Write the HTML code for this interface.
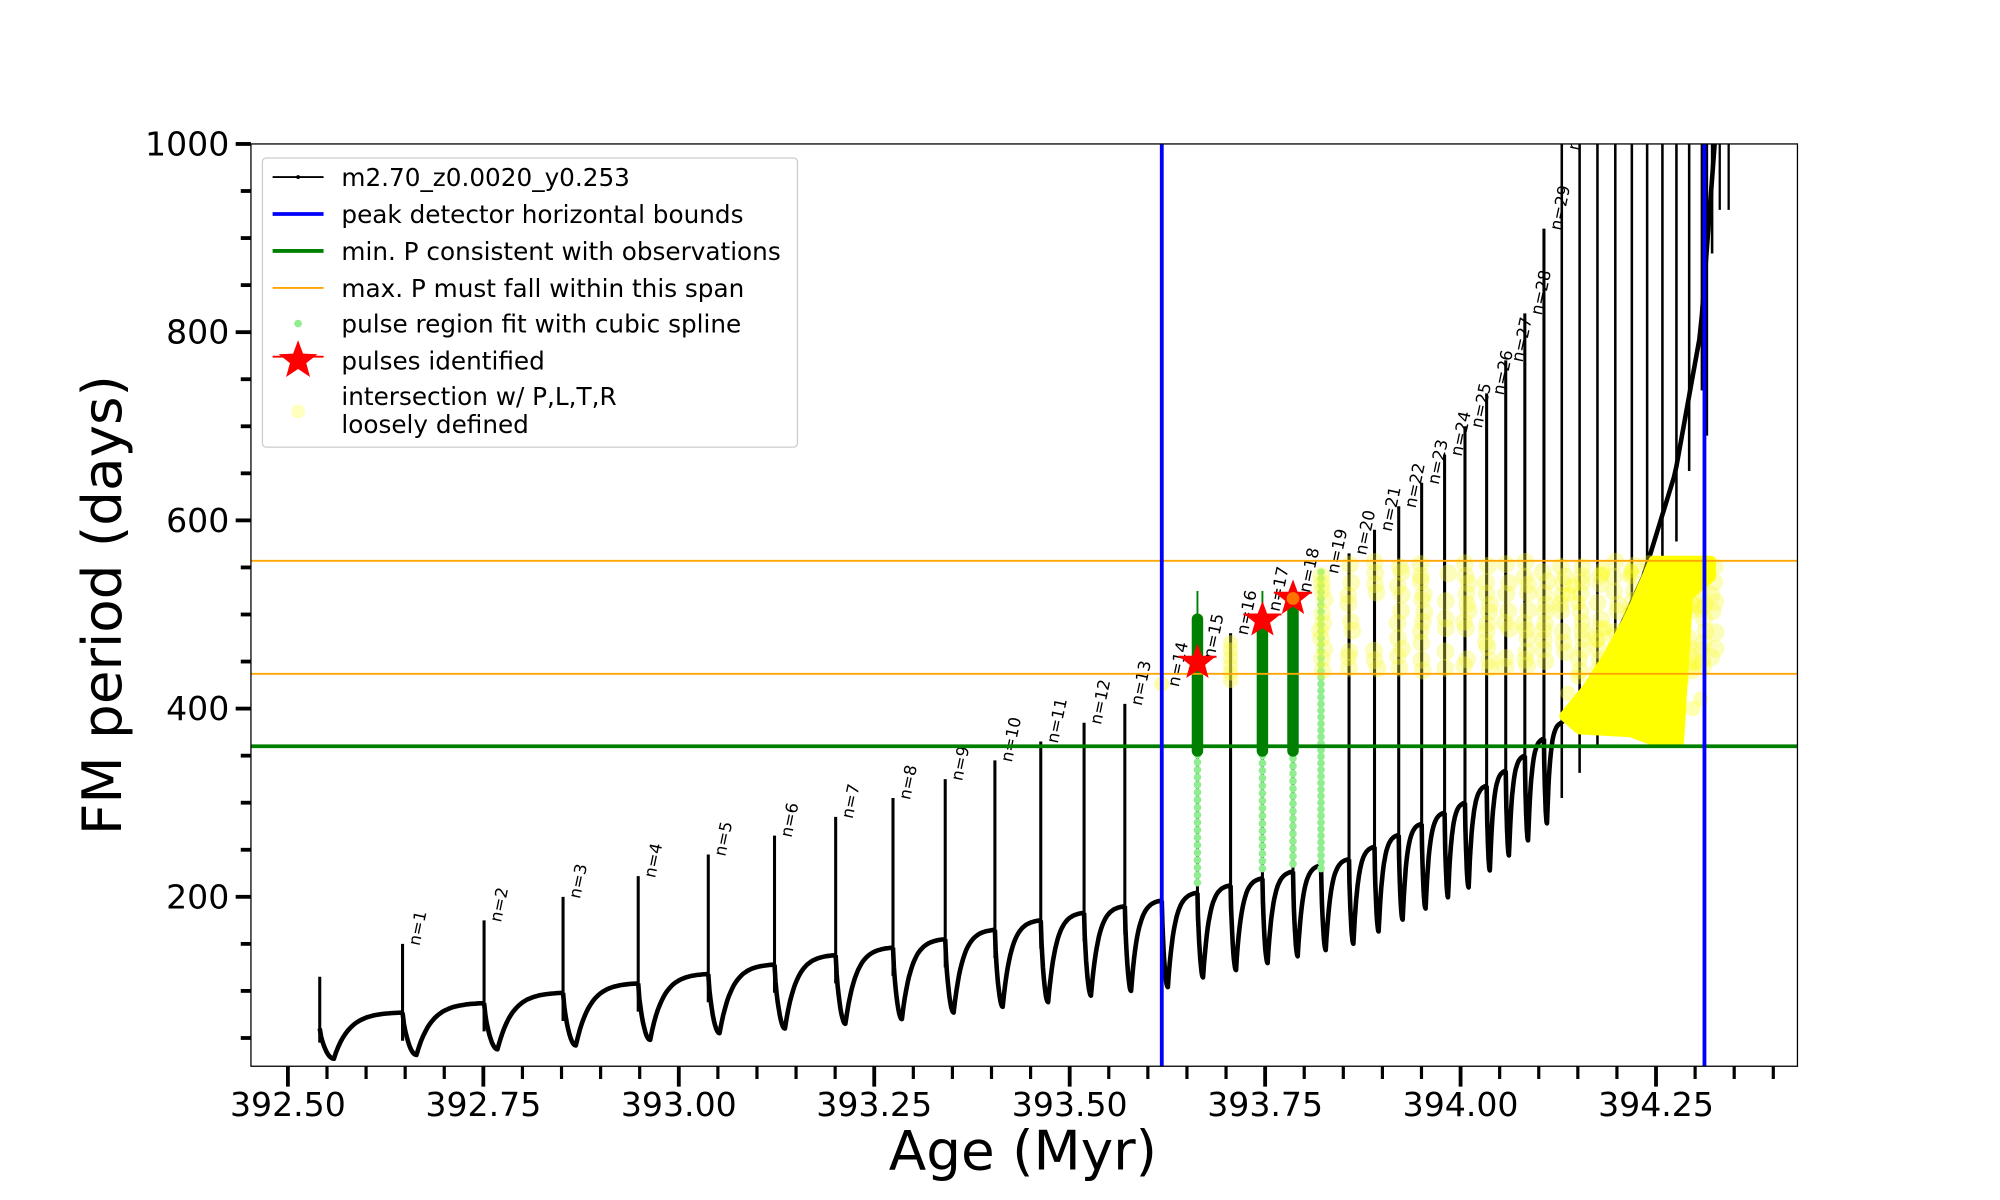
<!DOCTYPE html>
<html><head><meta charset="utf-8">
<style>
html,body{margin:0;padding:0;background:#fff;}
svg{display:block;}
text{font-family:"DejaVu Sans","Liberation Sans",sans-serif;}
</style></head>
<body>
<svg id="s" width="2000" height="1200" viewBox="0 0 1570 942" xmlns="http://www.w3.org/2000/svg">
<rect x="0" y="0" width="1570" height="942" fill="#fff"/>
<g id="plot"></g>
<g id="frame"></g>
</svg>
<script>
const NS="http://www.w3.org/2000/svg";
const plot=document.getElementById('plot'), frame=document.getElementById('frame');
function el(p,t,a,txt){const e=document.createElementNS(NS,t);for(const k in a)e.setAttribute(k,a[k]);if(txt!=null)e.textContent=txt;p.appendChild(e);return e;}
const L=197,R=1411,T=113,B=837;
const Y=v=>113+(1000-v)*0.73875;
const X=a=>226+(a-392.5)*613.7;
const defs=el(document.getElementById('s'),'defs',{});
const cp=el(defs,'clipPath',{id:'c'});el(cp,'rect',{x:L,y:T,width:R-L,height:B-T});
plot.setAttribute('clip-path','url(#c)');

const xs=[251,316,380,442,501,556,608,656,701,742,781,817,851,883,912,940,966,991,1015,1037,1059,1079,1098,1116,1134,1150,1167,1182,1197,1212,1226,1240,1254,1268,1281,1293,1305,1316,1326,1336,1344];
const pk=[115,150,175,200,222,245,265,285,305,325,345,365,385,405,425,455,480,505,525,545,565,590,615,640,670,700,735,770,820,910,1010,1010,1010,1010,1010,1010,1010,1010,1010,1010,1010];
const qx=[251,316,380,442,501,556,608,656,701,742,781,817,851,883,912,1059,1150,1197,1226,1260,1290,1315,1335,1346];
const qv=[60,77,87,98,108,118,128,138,146,155,165,175,183,190,196,240,300,350,385,450,540,650,800,1000];
function q(x){for(let i=0;i<qx.length-1;i++){if(x<=qx[i+1]){const f=(x-qx[i])/(qx[i+1]-qx[i]);return qv[i]+f*(qv[i+1]-qv[i]);}}return qv[qv.length-1];}
const mins=[28,32,38,42,48,55,60,65,70,77,83,88,95,100,104];
function mn(n){if(n<mins.length)return mins[n];const qq=q(xs[n]);return qq-90;}
let d='';
for(let n=0;n<30;n++){
  const x0=xs[n],x1=xs[n+1],w=x1-x0;
  const qn=q(x0),qn1=q(x1),m=mn(n);
  const tm=0.17*w;
  let pts=[];
  const start=(n==0)?60:qn;
  for(let i=0;i<=10;i++){const t=i/10;pts.push([x0+t*tm,start+(m-start)*Math.sin(Math.PI/2*t)**0.7]);}
  for(let i=1;i<=30;i++){const t=i/30;const xx=x0+tm+t*(w-tm);pts.push([xx,qn1-(qn1-m)*(Math.exp(-4.5*t)-Math.exp(-4.5))/(1-Math.exp(-4.5))]);}
  pts.forEach((p,i)=>{d+=(i==0?'M':'L')+p[0].toFixed(1)+','+Y(p[1]).toFixed(1)+' ';});
}
el(plot,'path',{d:d,fill:'none',stroke:'#000','stroke-width':3.6,'stroke-linejoin':'round'});
let d2='';for(let x=1226;x<=1346;x+=2){d2+=(x==1226?'M':'L')+x+','+Y(q(x)).toFixed(1)+' ';}
el(plot,'path',{d:d2,fill:'none',stroke:'#000','stroke-width':3.6});
for(let n=0;n<xs.length;n++){
  const x=xs[n];const qq=q(x);
  el(plot,'line',{x1:x,x2:x,y1:Y(pk[n]),y2:Y(Math.max(qq-(n<30?30:80),n==0?45:0)),stroke:'#000','stroke-width':n<30?2.4:2});
}
[[1350,930,1000],[1357,930,1000],[1340,690,1000]].forEach(a=>el(plot,'line',{x1:a[0],x2:a[0],y1:Y(a[2]),y2:Y(a[1]),stroke:'#000','stroke-width':1.8}));
for(let n=1;n<=30;n++){
  const x=xs[n]+4,y=Y(Math.min(pk[n],995));
  el(plot,'text',{x:x,y:y,'font-size':13,transform:`rotate(-78 ${x} ${y})`,'dominant-baseline':'hanging'},'n='+n);
}
function dots(x,v0,v1,step,col,r){for(let v=v0;v<=v1;v+=step)el(plot,'circle',{cx:x,cy:Y(v),r:r,fill:col});}
dots(940,215,360,8,'#90ee90',3);dots(991,230,360,8,'#90ee90',3);dots(1015,235,360,8,'#90ee90',3);dots(1037,230,545,7,'#90ee90',3);
const rnd=(()=>{let s=7;return()=>{s=(s*9301+49297)%233280;return s/233280;};})();
el(plot,'circle',{cx:912,cy:Y(426),r:6,fill:'rgba(250,250,60,0.45)'});
for(let v=430;v<=470;v+=8)el(plot,'circle',{cx:966,cy:Y(v),r:6,fill:'rgba(250,250,60,0.4)'});
for(let n=19;n<xs.length;n++){
  for(let v=440;v<=555;v+=10){ if(rnd()<0.75) el(plot,'circle',{cx:xs[n]+(rnd()*4-1),cy:Y(v+rnd()*6),r:7,fill:'rgba(250,250,60,0.35)'});}
}
el(plot,'path',{d:`M1228,${Y(392)} L1245,${Y(420)} L1262,${Y(455)} L1280,${Y(500)} L1298,${Y(557)} L1343,${Y(557)} L1343,${Y(540)} L1325,${Y(520)} L1318,${Y(365)} L1300,${Y(365)} L1280,${Y(375)} L1240,${Y(378)} Z`,fill:'#ffff00',stroke:'#ffff00','stroke-width':8,'stroke-linejoin':'round'});
for(let i=0;i<40;i++){const x=1228+rnd()*110;el(plot,'circle',{cx:x,cy:Y(380+rnd()*170),r:6,fill:'rgba(255,255,0,0.3)'});}
[[940,355,495],[991,355,495],[1015,355,510]].forEach(a=>el(plot,'line',{x1:a[0],x2:a[0],y1:Y(a[2]),y2:Y(a[1]),stroke:'#008000','stroke-width':9,'stroke-linecap':'round'}));
el(plot,'line',{x1:940,x2:940,y1:Y(525),y2:Y(480),stroke:'#008000','stroke-width':1.5});
el(plot,'line',{x1:991,x2:991,y1:Y(525),y2:Y(480),stroke:'#008000','stroke-width':1.5});
el(plot,'line',{x1:L,x2:R,y1:Y(557),y2:Y(557),stroke:'#ffa500','stroke-width':1.5});
el(plot,'line',{x1:L,x2:R,y1:Y(437),y2:Y(437),stroke:'#ffa500','stroke-width':1.5});
el(plot,'line',{x1:L,x2:R,y1:Y(360),y2:Y(360),stroke:'#008000','stroke-width':3});
el(plot,'line',{x1:912,x2:912,y1:T,y2:B,stroke:'#0000ff','stroke-width':3});
el(plot,'line',{x1:1338,x2:1338,y1:T,y2:B,stroke:'#0000ff','stroke-width':3});
function star(cx,cy,r){let p='';for(let i=0;i<10;i++){const a=-Math.PI/2+i*Math.PI/5;const rr=i%2?r*0.42:r;p+=(cx+rr*Math.cos(a)).toFixed(1)+','+(cy+rr*Math.sin(a)).toFixed(1)+' ';}el(plot,'polygon',{points:p,fill:'#ff0000'});el(plot,'line',{x1:cx-r,x2:cx+r,y1:cy-r*0.3,y2:cy-r*0.3,stroke:'#ff0000','stroke-width':1.5});}
star(940,Y(449),15);star(991,Y(494),15);star(1015,Y(517),15);
el(plot,'circle',{cx:1015,cy:Y(517),r:5,fill:'rgba(255,165,0,0.7)'});
el(frame,'rect',{x:L,y:T,width:R-L,height:B-T,fill:'none',stroke:'#000','stroke-width':1});
for(let i=0;i<=38;i++){const a=392.5+i*0.05;const x=X(a);const maj=i%5==0;
  el(frame,'line',{x1:x,x2:x,y1:B,y2:B+(maj?16:10),stroke:'#000','stroke-width':maj?3:2.5});
  if(maj)el(frame,'text',{x:x,y:876,'font-size':26,'text-anchor':'middle'},a.toFixed(2));}
for(let v=50;v<=1000;v+=50){const y=Y(v);const maj=v%200==0;
  el(frame,'line',{x1:L,x2:L-(maj?12:8),y1:y,y2:y,stroke:'#000','stroke-width':3});
  if(maj)el(frame,'text',{x:180,y:y+9,'font-size':26,'text-anchor':'end'},String(v));}
el(frame,'text',{x:803,y:918,'font-size':43,'text-anchor':'middle'},'Age (Myr)');
el(frame,'text',{x:95,y:475,'font-size':43,'text-anchor':'middle',transform:'rotate(-90 95 475)'},'FM period (days)');
const lg=el(frame,'g',{});
el(lg,'rect',{x:206,y:124,width:420,height:227,rx:3,fill:'rgba(255,255,255,0.85)',stroke:'#ccc','stroke-width':1});
const ly=[139,168,197,226,254,283];
const lt=['m2.70_z0.0020_y0.253','peak detector horizontal bounds','min. P consistent with observations','max. P must fall within this span','pulse region fit with cubic spline','pulses identified'];
lt.forEach((t,i)=>el(lg,'text',{x:268,y:ly[i]+7,'font-size':19.4},t));
el(lg,'line',{x1:214,x2:254,y1:139,y2:139,stroke:'#000','stroke-width':1.5});el(lg,'circle',{cx:234,cy:139,r:1.5,fill:'#000'});
el(lg,'line',{x1:214,x2:254,y1:168,y2:168,stroke:'#0000ff','stroke-width':3});
el(lg,'line',{x1:214,x2:254,y1:197,y2:197,stroke:'#008000','stroke-width':3});
el(lg,'line',{x1:214,x2:254,y1:226,y2:226,stroke:'#ffa500','stroke-width':1.5});
el(lg,'circle',{cx:234,cy:254,r:3,fill:'#90ee90'});
(function(){const cx=234,cy=283,r=16;let p='';for(let i=0;i<10;i++){const a=-Math.PI/2+i*Math.PI/5;const rr=i%2?r*0.42:r;p+=(cx+rr*Math.cos(a)).toFixed(1)+','+(cy+rr*Math.sin(a)).toFixed(1)+' ';}el(lg,'polygon',{points:p,fill:'#ff0000'});el(lg,'line',{x1:214,x2:254,y1:280,y2:280,stroke:'#ff0000','stroke-width':1.5});})();
el(lg,'circle',{cx:234,cy:323,r:5.5,fill:'#ffffc0'});
el(lg,'text',{x:268,y:318,'font-size':19.4},'intersection w/ P,L,T,R');
el(lg,'text',{x:268,y:340,'font-size':19.4},'loosely defined');
</script>
</body></html>
